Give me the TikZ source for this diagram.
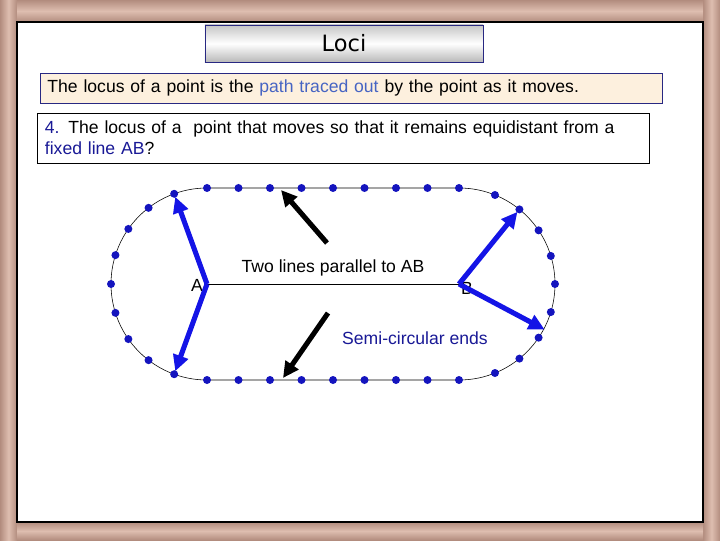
\documentclass[tikz,border=0pt]{standalone}
\usepackage{fontspec}
\setmainfont{Liberation Sans}
\newfontfamily\titlefont{DejaVu Sans}
\usepackage{tikz}
\usetikzlibrary{arrows.meta,calc}

\definecolor{framepink}{RGB}{222,190,176}
\definecolor{framedark}{RGB}{178,140,126}
\definecolor{navy}{RGB}{40,40,130}
\definecolor{beige}{RGB}{253,240,222}
\definecolor{pathblue}{RGB}{70,100,195}
\definecolor{qblue}{RGB}{25,25,150}
\definecolor{dotblue}{RGB}{20,20,190}
\definecolor{arrowblue}{RGB}{20,20,230}

\begin{document}
\begin{tikzpicture}[x=0.025cm,y=0.025cm,
  txt/.style={font=\fontsize{12.5}{14.9}\selectfont},
  bluearrow/.style={draw=arrowblue,line width=3.6pt,-{Triangle[length=0.4cm,width=0.38cm]}},
  blackarrow/.style={draw=black,line width=3.6pt,-{Triangle[length=0.4cm,width=0.38cm]}}]
\useasboundingbox (0,0) rectangle (720,540);
\fill[white] (0,0) rectangle (720,540);
% frame
\shade[left color=framedark,right color=framedark,middle color=framepink] (0,0) rectangle (17,540);
\shade[left color=framedark,right color=framedark,middle color=framepink] (703,0) rectangle (720,540);
\shade[top color=framedark,bottom color=framedark,middle color=framepink] (17,518) rectangle (703,540);
\shade[top color=framedark,bottom color=framedark,middle color=framepink] (17,0) rectangle (703,18);
\draw[line width=0.8pt] (17,18) rectangle (703,518);

% text boxes
\node[draw=navy,top color=gray!45,bottom color=gray!55,middle color=white,
  minimum width=6.95cm,minimum height=0.925cm,font=\titlefont\fontsize{16}{18}\selectfont] (title) at (344,496.5) {Loci};
\node[txt,draw=navy,fill=beige,text width=15.2cm,inner xsep=0.175cm,
  minimum height=0.75cm,align=left] (def) at (351.5,452)
  {The locus of a point is the \textcolor{pathblue}{path traced out} by the point as it moves.};
\node[txt,draw=black,fill=white,text width=14.9cm,inner xsep=0.2cm,
  minimum height=1.25cm,align=left] (quest) at (343,402)
  {\textcolor{qblue}{4.} The locus of a~ point that moves so that it remains equidistant from a\\
   \textcolor{qblue}{fixed line AB}?};

% the locus
\coordinate (A) at (207,256);
\coordinate (B) at (459,256);
\draw (A) -- (B);
\draw ($(A)+(0,96)$) -- ($(B)+(0,96)$) arc[start angle=90,end angle=-90,radius=96]
  -- ($(A)+(0,-96)$) arc[start angle=270,end angle=90,radius=96];

\foreach \i in {0,...,8} {
  \coordinate (t\i) at (207+31.5*\i,352);
  \coordinate (b\i) at (207+31.5*\i,160);
  \coordinate (l\i) at ($(A)+({110+17.5*\i}:96)$);
  \coordinate (r\i) at ($(B)+({68-17*\i}:96)$);
}
\coordinate (rb) at ($(B)+(-28:97)$);

\node[txt] (labA) at (197,255) {A};
\node[txt] (labB) at (467,252) {B};
\node[txt] (par) at (333,272) {Two lines parallel to AB};
\node[txt,text=qblue] (semi) at (415,202) {Semi-circular ends};

% distances
\draw[bluearrow,shorten >=0.08cm] (A) -- (l0);
\draw[bluearrow,shorten >=0.08cm] (A) -- (l8);
\draw[bluearrow,shorten >=0.08cm] (B) -- (r1);
\draw[bluearrow] (B) -- (rb);

\coordinate (p1) at (327,297);
\coordinate (p1tip) at (281,350);
\coordinate (p2) at (328,227);
\coordinate (p2tip) at (283,162);
\draw[blackarrow] (p1) -- (p1tip);
\draw[blackarrow] (p2) -- (p2tip);

\foreach \i in {0,...,8} {
  \fill[dotblue] (t\i) circle (0.1cm);
  \fill[dotblue] (b\i) circle (0.1cm);
  \fill[dotblue] (l\i) circle (0.1cm);
  \fill[dotblue] (r\i) circle (0.1cm);
}
\end{tikzpicture}
\end{document}
